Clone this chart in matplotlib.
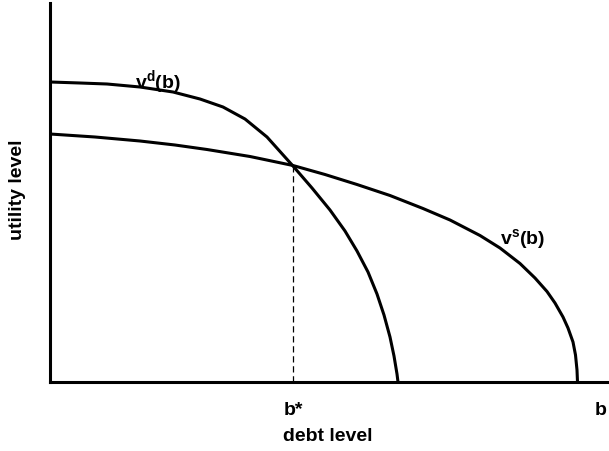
import matplotlib.pyplot as plt

plt.rcParams['font.family'] = ['Liberation Sans', 'DejaVu Sans']
plt.rcParams['mathtext.fontset'] = 'custom'
plt.rcParams['mathtext.rm'] = 'Liberation Sans:bold'
plt.rcParams['mathtext.it'] = 'Liberation Sans:bold'
plt.rcParams['mathtext.bf'] = 'Liberation Sans:bold'

# curves (debt level, utility level)
vd_x = [0, 30, 57, 90, 123, 150, 173, 195, 217, 243, 262, 280, 295, 307,
        318, 327, 334, 340, 344, 347, 348]
vd_y = [300, 299, 298, 295, 290, 283, 275, 263, 245, 216, 194, 172, 151, 131,
        110, 88, 67, 45, 26, 8, 0]

vs_x = [0, 45, 90, 125, 157, 200, 243, 275, 307, 340, 373, 400, 430, 450,
        470, 485, 497, 505, 513, 518, 523, 525.5, 527, 527.5]
vs_y = [248, 245, 241, 237, 232.5, 225.5, 216.5, 207.5, 197.5, 186.5, 173.5,
        162, 146.5, 134, 118.5, 104, 90.5, 79, 65, 54, 40, 27, 12, 0]

b_star = 243
u_star = 216
b_max = 551

fig = plt.figure(figsize=(6.09, 4.52), dpi=100)
ax = fig.add_axes([50 / 609, 69 / 452, 559 / 609, 379 / 452])
ax.set_xlim(0, 559)
ax.set_ylim(0, 379)

ax.plot(vd_x, vd_y, color='black', lw=2.2, solid_joinstyle='round')
ax.plot(vs_x, vs_y, color='black', lw=2.2, solid_joinstyle='round')
ax.plot([b_star, b_star], [0, u_star], color='black', lw=0.9,
        dashes=(5, 3))

for s in ['top', 'right']:
    ax.spines[s].set_visible(False)
for s in ['left', 'bottom']:
    ax.spines[s].set_linewidth(2.2)

ax.set_xticks([b_star, b_max])
ax.set_xticklabels(['b*', 'b'], fontsize=14, fontweight='bold')
ax.tick_params(axis='x', length=0, pad=14)
ax.set_yticks([])

ax.text(108, 301, r'$\mathrm{v^{d}(b)}$', fontsize=14, ha='center', va='center')
ax.text(473, 144, r'$\mathrm{v^{s}(b)}$', fontsize=14, ha='center', va='center')

fig.text(328 / 609, 1 - 437 / 452, 'debt level', fontsize=14,
         fontweight='bold', ha='center', va='center')
fig.text(18 / 609, 1 - 190 / 452, 'utility level', fontsize=14,
         fontweight='bold', ha='center', va='center', rotation=90)

fig.savefig('out.png', dpi=100)
